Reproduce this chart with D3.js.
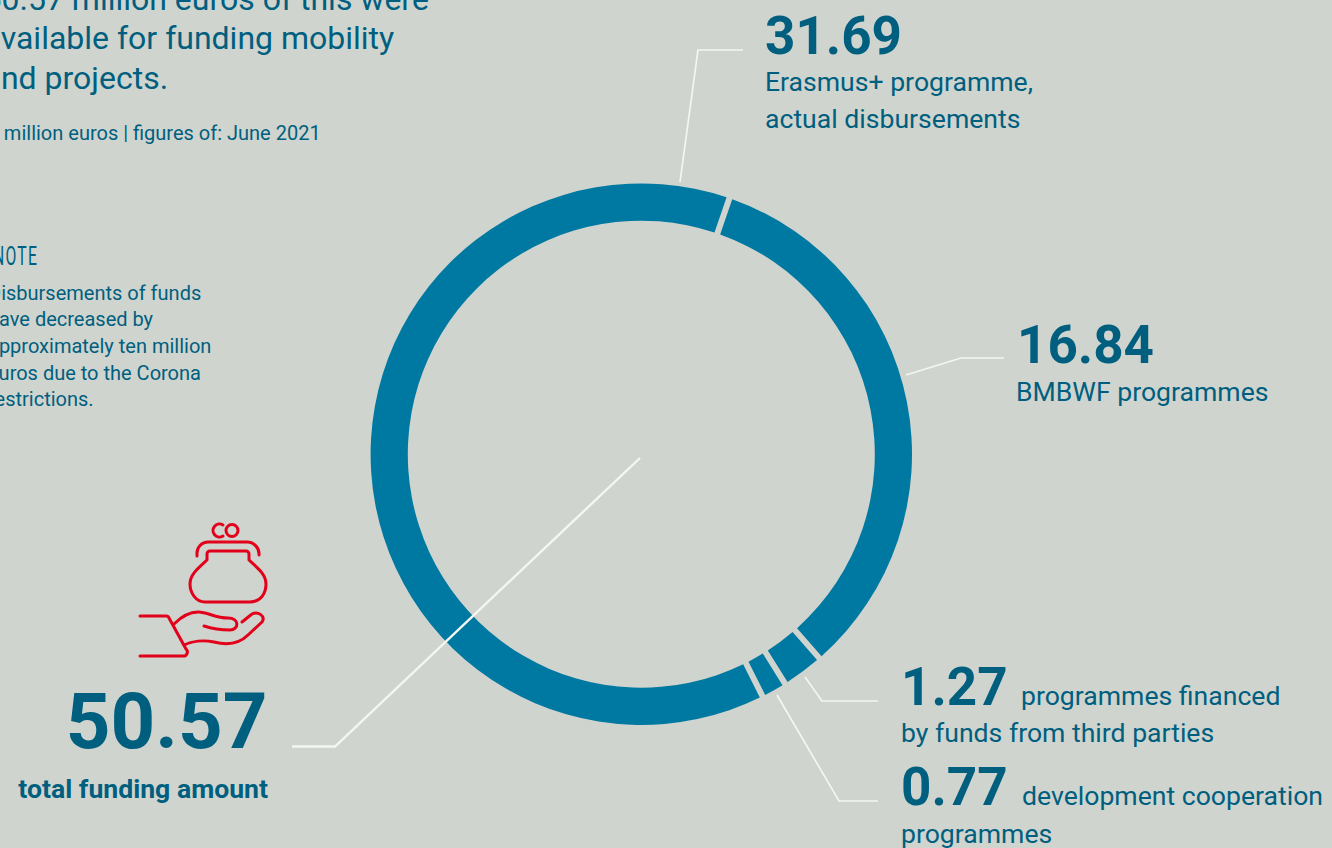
<!DOCTYPE html>
<html><head><meta charset="utf-8">
<script src="https://cdn.jsdelivr.net/npm/d3@7/dist/d3.min.js"></script>
<style>html,body{margin:0;padding:0;background:#cfd4ce;overflow:hidden}svg{display:block}text{font-family:Roboto,sans-serif;fill:#005f7f}</style>
</head><body><svg id="c" width="1332" height="848"></svg>
<script>
const categories=["BMBWF programmes","programmes financed by funds from third parties","development cooperation programmes","Erasmus+ programme, actual disbursements"];
const values=[16.84,1.27,0.77,31.69];
const total=50.57;
const introLines=["50.57 million euros of this were","available for funding mobility","and projects."];
const noteLines=["Disbursements of funds","have decreased by","approximately ten million","euros due to the Corona","restrictions."];
const svg=d3.select("#c");
const cx=641.3,cy=454.2;
const a0=19.0*Math.PI/180;
const pie=d3.pie().sort(null).startAngle(a0).endAngle(a0+2*Math.PI).padAngle(0)(values);
const arc=d3.arc().innerRadius(233.5).outerRadius(270.7).padAngle(0.022).padRadius(271);
svg.append("g").attr("transform",`translate(${cx},${cy})`).selectAll("path").data(pie).join("path").attr("d",arc).attr("fill","#0079a2");

const leaders=[
 [[743,50],[698,50],[680,182]],
 [[1004,358],[961,358],[906,375]],
 [[878,701],[822,701],[805,677]],
 [[878,801],[839,801],[777,695]],
 [[292,746.5],[335,746.5],[640,458]]];
const line=d3.line();
svg.append("g").selectAll("path").data(leaders).join("path").attr("d",line).attr("fill","none").attr("stroke","#f4f6f2").attr("stroke-width",(d,i)=>i==4?2.4:1.7);

function t(x,y,s,size,w,extra){const e=svg.append("text").attr("x",x).attr("y",y).attr("font-size",size).attr("font-weight",w||400).text(s);if(extra)extra(e);return e;}
// intro
introLines.forEach((s,i)=>t(-16.5,[10,49,89][i],s,32));
t(-17,140,"in million euros | figures of: June 2021",20);
svg.append("text").attr("transform","translate(-7,265) scale(0.63,1)").attr("font-size",25).style("font-family","'Liberation Sans Narrow',Roboto").attr("letter-spacing",2).text("NOTE");
noteLines.forEach((s,i)=>t(-12,[300,326,353,380,405.5][i],s,20));
// values
const big=53,lab=26.6;
t(765,53.5,"31.69",big,700);
t(765,91,"Erasmus+ programme,",lab);
t(765,128,"actual disbursements",lab);
t(1017,363,"16.84",big,700);
t(1016,401,"BMBWF programmes",lab);
t(901,705,"1.27",big,700);
t(1021,705,"programmes financed",lab);
t(901,742,"by funds from third parties",lab);
t(901,805,"0.77",big,700);
t(1022,805,"development cooperation",lab);
t(901,843,"programmes",lab);
t(267.5,748,"50.57",78,700,e=>e.attr("text-anchor","end"));
t(268,798,"total funding amount",lab,700,e=>e.attr("text-anchor","end"));
// icon
const ic=svg.append("g").attr("fill","none").attr("stroke","#e2001a").attr("stroke-width",3).attr("stroke-linecap","round").attr("stroke-linejoin","round").attr("transform","translate(130,510)");
ic.append("path").attr("d","M93 15a6.5 6.5 0 1 0 0 11");
ic.append("circle").attr("cx",102).attr("cy",20.5).attr("r",6);
ic.append("path").attr("d","M67 46V43a11 11 0 0 1 11-11H117a12 12 0 0 1 12 13");
ic.append("path").attr("d","M77 50V44a3 3 0 0 1 3-3H116a3 3 0 0 1 3 3V50C129 59 136 65 136 74C136 83 131 92 120 92H75C66 92 60 83 60 74C60 65 67 59 77 50Z");
ic.append("path").attr("d","M10 106H36a3 3 0 0 1 3 2L56 139a4 4 0 0 1-3 7H10");
ic.append("path").attr("d","M44 114C52 106 60 102 68 102C78 102 85 108 98 108C110 108 109 120 100 120C90 120 80 118 74 116");
ic.append("path").attr("d","M112 112L122 104C128 101 136 106 132 112L118 125C108 135 96 135 84 132C74 130 62 131 54 135");
</script></body></html>
